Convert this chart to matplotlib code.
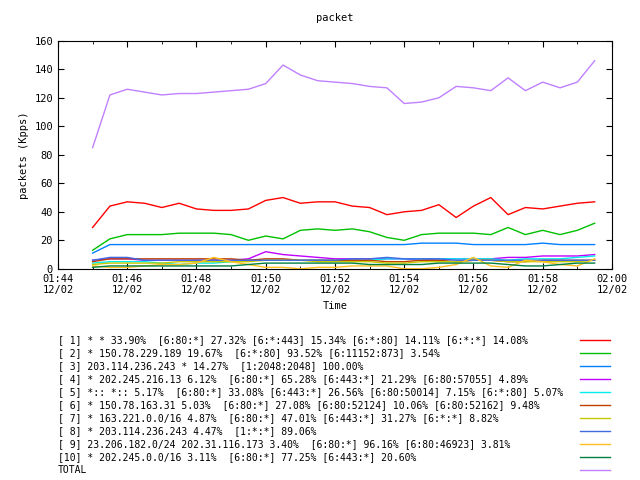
import numpy as np
import matplotlib
matplotlib.use('Agg')
import matplotlib.pyplot as plt

# minutes after 01:44, one sample every 30 s
t = np.arange(30) * 0.5 + 1.0

labels = [
    "[ 1] * * 33.90%  [6:80:*] 27.32% [6:*:443] 15.34% [6:*:80] 14.11% [6:*:*] 14.08%",
    "[ 2] * 150.78.229.189 19.67%  [6:*:80] 93.52% [6:11152:873] 3.54%",
    "[ 3] 203.114.236.243 * 14.27%  [1:2048:2048] 100.00%",
    "[ 4] * 202.245.216.13 6.12%  [6:80:*] 65.28% [6:443:*] 21.29% [6:80:57055] 4.89%",
    "[ 5] *:: *:: 5.17%  [6:80:*] 33.08% [6:443:*] 26.56% [6:80:50014] 7.15% [6:*:80] 5.07%",
    "[ 6] * 150.78.163.31 5.03%  [6:80:*] 27.08% [6:80:52124] 10.06% [6:80:52162] 9.48%",
    "[ 7] * 163.221.0.0/16 4.87%  [6:80:*] 47.01% [6:443:*] 31.27% [6:*:*] 8.82%",
    "[ 8] * 203.114.236.243 4.47%  [1:*:*] 89.06%",
    "[ 9] 23.206.182.0/24 202.31.116.173 3.40%  [6:80:*] 96.16% [6:80:46923] 3.81%",
    "[10] * 202.245.0.0/16 3.11%  [6:80:*] 77.25% [6:443:*] 20.60%",
    "TOTAL",
]
colors = ['#ff0000', '#00c000', '#0080ff', '#c000ff', '#00eeee', '#c04000',
          '#c8c800', '#4169e1', '#ffc020', '#008040', '#c080ff']

s1 = [29, 44, 47, 46, 43, 46, 42, 41, 41, 42, 48, 50, 46, 47, 47, 44, 43, 38, 40, 41,
      45, 36, 44, 50, 38, 43, 42, 44, 46, 47]
s2 = [13, 21, 24, 24, 24, 25, 25, 25, 24, 20, 23, 21, 27, 28, 27, 28, 26, 22, 20, 24,
      25, 25, 25, 24, 29, 24, 27, 24, 27, 32]
s3 = [11, 17, 17, 17, 17, 17, 17, 17, 17, 17, 17, 17, 17, 17, 17, 17, 17, 17, 17, 18,
      18, 18, 17, 17, 17, 17, 18, 17, 17, 17]
s4 = [6, 7, 7, 6, 6, 6, 6, 6, 6, 7, 12, 10, 9, 8, 7, 7, 7, 7, 7, 6,
      7, 7, 7, 7, 8, 8, 9, 9, 9, 10]
s5 = [4, 5, 5, 5, 4, 3, 4, 4, 5, 6, 6, 6, 6, 6, 6, 6, 6, 7, 7, 7,
      7, 7, 7, 7, 6, 7, 7, 7, 8, 9]
s6 = [5, 7, 7, 7, 7, 7, 7, 7, 7, 6, 7, 7, 6, 6, 6, 6, 6, 5, 5, 6,
      6, 5, 6, 6, 5, 5, 6, 6, 6, 6]
s7 = [3, 4, 4, 4, 4, 5, 5, 5, 5, 5, 6, 6, 6, 5, 5, 5, 5, 4, 4, 5,
      5, 5, 6, 6, 5, 5, 5, 5, 5, 6]
s8 = [6, 8, 8, 6, 6, 6, 6, 6, 6, 6, 6, 6, 6, 6, 6, 7, 7, 8, 7, 7,
      7, 6, 6, 6, 6, 6, 6, 6, 6, 6]
s9 = [2, 1, 1, 2, 3, 3, 4, 8, 5, 3, 1, 1, 0, 1, 1, 2, 2, 2, 0, 0,
      1, 3, 8, 2, 1, 6, 5, 3, 2, 7]
s10 = [1, 2, 2, 2, 2, 2, 2, 2, 2, 3, 4, 4, 4, 4, 4, 4, 3, 3, 3, 3,
       4, 4, 4, 4, 3, 2, 2, 3, 4, 4]
total = [85, 122, 126, 124, 122, 123, 123, 124, 125, 126, 130, 143, 136, 132, 131, 130,
         128, 127, 116, 117, 120, 128, 127, 125, 134, 125, 131, 127, 131, 146]
series = [s1, s2, s3, s4, s5, s6, s7, s8, s9, s10, total]

ticks = np.arange(0, 17, 2)
tick_labels = ["01:44\n12/02", "01:46\n12/02", "01:48\n12/02", "01:50\n12/02",
               "01:52\n12/02", "01:54\n12/02", "01:56\n12/02", "01:58\n12/02",
               "02:00\n12/02"]

plt.rcParams['font.family'] = 'DejaVu Sans Mono'
fig = plt.figure(figsize=(6.4, 4.8), dpi=100)
ax = fig.add_axes([0.0906, 0.44, 0.8656, 0.475])
for s, c in zip(series, colors):
    ax.plot(t, s, color=c, lw=1)

ax.set_xlim(0, 16)
ax.set_ylim(0, 160)
ax.set_xticks(ticks)
ax.set_xticks(np.arange(1, 16, 2), minor=True)
ax.set_xticklabels(tick_labels, fontsize=7.5)
ax.set_yticks(np.arange(0, 161, 20))
ax.tick_params(axis='y', labelsize=7.5)
ax.tick_params(direction='in', top=True, right=True, which='both', length=4)
ax.tick_params(which='minor', length=2)
ax.set_title("packet", fontsize=7.5, pad=14)
ax.set_xlabel("Time", fontsize=7.5)
ax.set_ylabel("packets (Kpps)", fontsize=7.5)

for i, (lab, c) in enumerate(zip(labels, colors)):
    y = 1 - (340 + i * 13) / 480
    fig.text(58 / 640, y, lab, fontsize=7.0, va='center', ha='left')
    fig.add_artist(plt.Line2D([580 / 640, 610 / 640], [y, y], color=c, lw=1))

fig.savefig("out.png", dpi=100)
